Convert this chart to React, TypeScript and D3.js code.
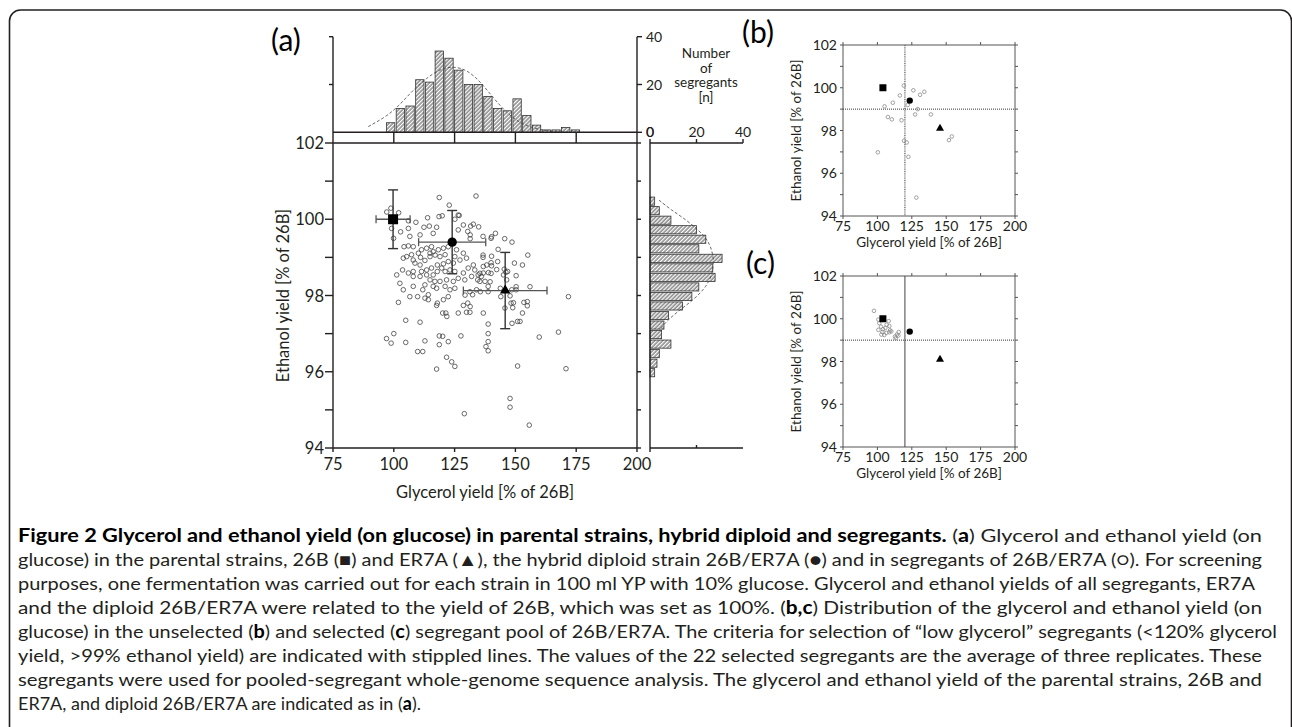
import React from "react";
import * as d3 from "d3";

// segregants of 26B/ER7A, panel (a): [glycerol %, ethanol %]
const segregantsA: [number, number][] = [
  [118.7, 100.57], [133.8, 100.61], [122.8, 100.37], [113.9, 100.04], [118.6, 100.07], [119.9, 100.09],
  [126.9, 100.1], [125.1, 100.0], [97.1, 100.19], [98.8, 100.29], [102.0, 100.17], [106.0, 99.96],
  [109.1, 99.92], [102.8, 99.67], [106.0, 99.76], [99.9, 99.5], [99.1, 99.76], [106.6, 99.55],
  [110.8, 99.59], [112.4, 99.79], [114.6, 99.82], [117.6, 99.79], [116.2, 99.63], [128.6, 99.85],
  [131.6, 99.82], [132.7, 99.87], [134.9, 99.8], [130.4, 99.68], [131.4, 99.59], [131.4, 99.49],
  [136.7, 99.55], [126.5, 99.72], [104.2, 99.28], [106.0, 99.3], [108.0, 99.28], [103.9, 98.98],
  [105.3, 99.02], [107.3, 99.07], [108.0, 98.93], [110.1, 99.11], [111.4, 99.2], [113.5, 99.24],
  [115.5, 99.28], [116.2, 99.15], [118.3, 99.2], [114.9, 99.11], [111.0, 99.0], [108.7, 98.85],
  [110.8, 98.8], [112.8, 98.92], [114.9, 99.02], [117.0, 99.06], [119.0, 99.02], [121.1, 99.07],
  [120.4, 99.24], [122.4, 99.28], [125.8, 99.2], [128.6, 99.11], [129.9, 98.98], [127.2, 98.93],
  [125.1, 99.02], [124.5, 98.85], [122.4, 98.89], [120.4, 98.83], [117.9, 98.8], [115.5, 98.72],
  [113.5, 98.67], [111.4, 98.63], [108.0, 98.63], [110.8, 98.5], [113.5, 98.54], [116.2, 98.54],
  [117.9, 98.63], [119.7, 98.72], [121.1, 98.63], [123.1, 98.67], [125.1, 98.63], [128.6, 98.59],
  [130.6, 98.72], [132.7, 98.8], [133.3, 98.67], [134.7, 98.54], [136.8, 98.76], [136.8, 98.59],
  [132.0, 98.5], [129.2, 98.41], [126.5, 98.45], [124.5, 98.37], [121.7, 98.41], [119.0, 98.37],
  [116.9, 98.37], [114.9, 98.41], [112.8, 98.28], [116.2, 98.24], [117.6, 98.19], [121.1, 98.24],
  [123.1, 98.15], [125.1, 98.19], [122.4, 97.97], [120.4, 97.89], [117.9, 97.8], [117.6, 97.74],
  [120.1, 97.54], [121.4, 97.54], [121.8, 97.45], [126.5, 97.54], [128.6, 97.74], [129.9, 97.56],
  [131.3, 97.56], [131.4, 97.71], [132.4, 98.02], [134.0, 98.15], [135.4, 98.37], [138.8, 98.24],
  [138.8, 98.1], [136.8, 97.54], [138.8, 97.25], [112.8, 97.93], [114.2, 97.89], [109.8, 97.97],
  [111.9, 98.15], [108.0, 98.5], [106.0, 98.59], [103.6, 98.67], [101.2, 98.54], [101.9, 97.82],
  [104.9, 97.35], [110.8, 97.3], [100.0, 97.0], [97.0, 96.87], [98.9, 96.75], [104.9, 96.77],
  [109.8, 96.53], [111.9, 96.53], [112.8, 96.81], [118.7, 96.94], [122.4, 96.79], [118.7, 96.71],
  [120.1, 96.93], [127.6, 96.94], [121.7, 96.38], [123.8, 96.26], [125.1, 96.14], [117.6, 96.07],
  [129.0, 94.9], [138.8, 97.0], [138.8, 96.79], [137.9, 96.66], [138.8, 96.55], [103.9, 98.15],
  [106.6, 97.97], [108.0, 98.24], [102.5, 98.32], [140.2, 99.54], [141.8, 99.63], [145.6, 99.49],
  [148.6, 99.4], [142.9, 99.21], [136.7, 99.06], [136.7, 99.0], [140.2, 99.03], [140.0, 98.86],
  [140.2, 98.78], [138.9, 98.6], [140.0, 98.58], [136.0, 98.5], [142.3, 98.68], [145.4, 98.69],
  [146.1, 98.61], [145.1, 98.54], [146.8, 98.63], [149.6, 98.85], [150.3, 98.52], [152.9, 98.8],
  [155.1, 99.06], [156.0, 98.23], [150.3, 98.23], [150.3, 98.15], [148.5, 98.15], [143.8, 98.19],
  [144.0, 97.97], [147.8, 97.99], [149.2, 97.81], [148.2, 97.8], [148.9, 97.68], [145.7, 97.67],
  [153.5, 97.82], [154.9, 97.84], [154.9, 97.73], [152.9, 97.54], [150.9, 97.32], [151.9, 97.32],
  [148.6, 97.27], [159.8, 96.91], [167.7, 97.04], [171.8, 97.97], [150.9, 96.15], [170.8, 96.08],
  [147.8, 95.3], [147.8, 95.07], [155.7, 94.6], [139.6, 98.36], [135.6, 98.1], [126.5, 100.11],
  [114.2, 98.02], [146.4, 98.41], [142.7, 98.89], [140.0, 99.5], [138.2, 98.8], [135.4, 98.58],
  [129.3, 98.01], [131.3, 98.1], [130.4, 97.8], [134.5, 98.41], [137.5, 98.37],
];

// unselected pool (b)
const segregantsB: [number, number][] = [
  [119.2, 100.1], [116.3, 99.64], [126.1, 99.88], [131.0, 99.67], [134.1, 99.81], [111.2, 99.3],
  [105.2, 99.13], [122.0, 99.19], [129.3, 99.0], [107.6, 98.63], [110.5, 98.52], [117.5, 98.48],
  [127.4, 98.75], [138.9, 98.75], [119.4, 97.52], [121.3, 97.44], [152.0, 97.55], [154.1, 97.72],
  [100.3, 96.98], [122.5, 96.77], [128.3, 94.86],
];

// selected pool (c)
const segregantsC: [number, number][] = [
  [97.5, 100.37], [100.7, 99.96], [101.4, 99.79], [100.7, 99.48], [102.6, 99.63], [103.6, 99.38],
  [105.0, 99.24], [102.9, 99.26], [105.8, 99.57], [108.2, 99.89], [108.7, 99.66], [109.2, 99.46],
  [110.1, 99.41], [108.7, 99.37], [112.8, 99.17], [114.2, 99.26], [115.5, 99.38], [113.3, 99.09],
  [104.1, 99.51], [106.5, 99.34], [106.7, 99.72], [115.2, 99.21],
];

// parents and hybrid: 26B (square), ER7A (triangle), 26B/ER7A (circle)
const parentShapes = ["square", "triangle", "circle"];
const parentGlycerol = [99.7, 145.8, 124.0];
const parentEthanol = [100.0, 98.13, 99.4];
const parentGlycerolSd = [7.0, 17.2, 13.8];
const parentEthanolSd = [0.77, 1.0, 0.83];
const parentGlycerolBC = [104.0, 145.5, 123.5];
const parentEthanolBC = [100.0, 98.1, 99.4];

// glycerol histogram (top)
const glycerolBinStart = [96.7, 100.7, 104.7, 108.7, 112.7, 116.7, 120.7, 124.7, 128.7, 132.7, 136.7, 140.7, 144.7, 148.7, 152.7, 156.7, 160.7, 164.7, 168.7, 172.7];
const glycerolBinWidth = 4;
const glycerolCounts = [4, 10, 11, 22, 21, 34, 31, 26, 20, 20, 15, 10, 9, 14, 7, 3, 1, 1, 2, 1];
const glycerolFit: [number, number][] = [
  [89.5, 2.4], [97, 6.6], [102.5, 11.5], [108, 17.8], [113.5, 22.7], [119, 26.5], [124.5, 27.6],
  [130, 26.2], [135.5, 21.3], [141, 14.3], [146.5, 8], [152, 3.8], [157.5, 1.7], [163, 0.6], [168, 0.1],
];

// ethanol histogram (right)
const ethanolBinStart = [100.35, 100.1, 99.85, 99.6, 99.35, 99.1, 98.85, 98.6, 98.35, 98.1, 97.85, 97.6, 97.35, 97.1, 96.85, 96.6, 96.35, 96.1, 95.85];
const ethanolBinWidth = 0.25;
const ethanolCounts = [2, 4, 9, 20, 24, 21, 31, 27, 28, 21, 18, 14, 8, 6, 5, 9, 4, 3, 2];
const ethanolFit: [number, number][] = [
  [100.5, 3.9], [100.25, 9], [99.98, 15.7], [99.7, 21], [99.46, 25], [99.02, 27.6], [98.59, 27],
  [98.23, 24.3], [97.88, 18.6], [97.62, 12.8], [97.36, 7.7], [97.1, 4],
];

const glycerolTicks = [75, 100, 125, 150, 175, 200];
const ethanolTicks = [94, 95, 96, 97, 98, 99, 100, 101, 102];
const countTicks = [0, 20, 40];
const selectGlycerol = 120;
const selectEthanol = 99;

const ink = "#231f20";
const font = "Lato, 'Open Sans', sans-serif";

function marker(shape: string, size: number) {
  const t = shape === "square" ? d3.symbolSquare : shape === "triangle" ? d3.symbolTriangle : d3.symbolCircle;
  return d3.symbol().type(t).size(size)() as string;
}

function SmallPanel({ points, top, label, dottedVertical }: { points: [number, number][]; top: number; label: string; dottedVertical: boolean }) {
  const x = d3.scaleLinear().domain([75, 200]).range([843, 1015]);
  const y = d3.scaleLinear().domain([94, 102]).range([top + 171, top]);
  const sizes: Record<string, number> = { square: 49, triangle: 28, circle: 32 };
  return (
    <g>
      <text x={label === "(b)" ? 742 : 746} y={top - 2} fontSize={30} fill="#000">{label}</text>
      <rect x={843} y={top} width={172} height={171} fill="none" stroke="#555" strokeWidth={1} />
      {ethanolTicks.map((v) => (
        <g key={v}>
          <line x1={843} x2={840} y1={y(v)} y2={y(v)} stroke="#555" />
          <line x1={1015} x2={1018} y1={y(v)} y2={y(v)} stroke="#555" />
          {v % 2 === 0 && (
            <text x={837} y={y(v) + 5} textAnchor="end" fontSize={14} fill={ink}>{v}</text>
          )}
        </g>
      ))}
      {glycerolTicks.map((v) => (
        <g key={v}>
          <line x1={x(v)} x2={x(v)} y1={top + 171} y2={top + 174} stroke="#555" />
          <line x1={x(v)} x2={x(v)} y1={top} y2={top - 3} stroke="#555" />
          <text x={x(v)} y={top + 186} textAnchor="middle" fontSize={14} fill={ink}>{v}</text>
        </g>
      ))}
      <text x={929} y={top + 202} textAnchor="middle" fontSize={13.5} fill={ink}>Glycerol yield [% of 26B]</text>
      <text transform={`translate(801,${top + 85.5}) rotate(-90)`} textAnchor="middle" fontSize={13.5} fill={ink}>
        Ethanol yield [% of 26B]
      </text>
      <line x1={x(selectGlycerol)} x2={x(selectGlycerol)} y1={top} y2={top + 171}
        stroke={dottedVertical ? "#666" : "#444"} strokeWidth={dottedVertical ? 1.3 : 1}
        strokeDasharray={dottedVertical ? "1,0.8" : undefined} />
      <line x1={843} x2={1015} y1={y(selectEthanol)} y2={y(selectEthanol)} stroke="#333" strokeWidth={1} strokeDasharray="1,1" />
      {points.map((p, i) => (
        <circle key={i} cx={x(p[0])} cy={y(p[1])} r={1.8} fill="none" stroke="#8a8a8a" strokeWidth={0.8} />
      ))}
      {parentShapes.map((s, i) => (
        <path key={s} d={marker(s, sizes[s])} transform={`translate(${x(parentGlycerolBC[i])},${y(parentEthanolBC[i])})`} fill="#000" />
      ))}
    </g>
  );
}

export default function App() {
  const x = d3.scaleLinear().domain([75, 200]).range([333, 637]);
  const y = d3.scaleLinear().domain([94, 102]).range([448, 143]);
  const nTop = d3.scaleLinear().domain([0, 40]).range([132.3, 36.7]);
  const nRight = d3.scaleLinear().domain([0, 40]).range([650, 743]);

  const topCurve = d3.line<[number, number]>().x((d) => x(d[0])).y((d) => nTop(d[1])).curve(d3.curveBasis);
  const rightCurve = d3.line<[number, number]>().x((d) => nRight(d[1])).y((d) => y(d[0])).curve(d3.curveBasis);
  const sizes: Record<string, number> = { square: 100, triangle: 48, circle: 68 };

  const capLines = [
    [
      { t: "Figure 2 Glycerol and ethanol yield (on glucose) in parental strains, hybrid diploid and segregants.", b: true },
      { t: " (" }, { t: "a", b: true }, { t: ") Glycerol and ethanol yield (on" },
    ],
    [{ t: "glucose) in the parental strains, 26B (\u25A0) and ER7A (\u25B2), the hybrid diploid strain 26B/ER7A (\u25CF) and in segregants of 26B/ER7A (\u25CB). For screening" }],
    [{ t: "purposes, one fermentation was carried out for each strain in 100 ml YP with 10% glucose. Glycerol and ethanol yields of all segregants, ER7A" }],
    [{ t: "and the diploid 26B/ER7A were related to the yield of 26B, which was set as 100%. (" }, { t: "b,c", b: true }, { t: ") Distribution of the glycerol and ethanol yield (on" }],
    [
      { t: "glucose) in the unselected (" }, { t: "b", b: true }, { t: ") and selected (" }, { t: "c", b: true },
      { t: ") segregant pool of 26B/ER7A. The criteria for selection of \u201Clow glycerol\u201D segregants (<120% glycerol" },
    ],
    [{ t: "yield, >99% ethanol yield) are indicated with stippled lines. The values of the 22 selected segregants are the average of three replicates. These" }],
    [{ t: "segregants were used for pooled-segregant whole-genome sequence analysis. The glycerol and ethanol yield of the parental strains, 26B and" }],
    [{ t: "ER7A, and diploid 26B/ER7A are indicated as in (" }, { t: "a", b: true }, { t: ")." }],
  ];
  const capEnds = [1262, 1262, 1255, 1262, 1277, 1262, 1262, 0];

  return (
    <svg width={1292} height={727} style={{ position: "absolute", left: 0, top: 0, background: "#fff" }} fontFamily={font}>
      <defs>
        <pattern id="hatch" patternUnits="userSpaceOnUse" width={2.8} height={2.8} patternTransform="rotate(45)">
          <rect width={2.8} height={2.8} fill="#fff" />
          <line x1={1} y1={0} x2={1} y2={2.8} stroke="#333" strokeWidth={0.9} />
        </pattern>
      </defs>
      <rect x={9.5} y={10} width={1282} height={800} rx={11} fill="none" stroke={ink} strokeWidth={1.6} />

      {/* panel (a) */}
      <text x={271} y={51} fontSize={30} fill="#000">(a)</text>

      {/* top histogram */}
      {glycerolBinStart.map((b, i) => (
        <rect key={b} x={x(b) + 0.7} width={x(b + glycerolBinWidth) - x(b) - 1.4} y={nTop(glycerolCounts[i])}
          height={nTop(0) - nTop(glycerolCounts[i])} fill="url(#hatch)" stroke="#333" strokeWidth={0.8} />
      ))}
      <path d={topCurve(glycerolFit) || ""} fill="none" stroke="#444" strokeWidth={0.8} strokeDasharray="3,2" />

      {/* right histogram */}
      {ethanolBinStart.map((b, i) => (
        <rect key={b} x={nRight(0)} width={nRight(ethanolCounts[i]) - nRight(0)} y={y(b + ethanolBinWidth) + 0.7}
          height={y(b) - y(b + ethanolBinWidth) - 1.4} fill="url(#hatch)" stroke="#333" strokeWidth={0.8} />
      ))}
      <path d={rightCurve(ethanolFit) || ""} fill="none" stroke="#444" strokeWidth={0.8} strokeDasharray="3,2" />

      {/* frame lines */}
      <g stroke={ink} strokeWidth={1.4} fill="none">
        <line x1={333} x2={333} y1={nTop(40)} y2={448} />
        <line x1={637} x2={637} y1={nTop(40)} y2={448} />
        <line x1={333} x2={637} y1={nTop(0)} y2={nTop(0)} />
        <line x1={333} x2={637} y1={143} y2={143} />
        <line x1={333} x2={637} y1={448} y2={448} />
        <line x1={650} x2={650} y1={139} y2={452} />
        <line x1={650} x2={743} y1={143} y2={143} />
        <line x1={650} x2={743} y1={448} y2={448} />
        {ethanolTicks.map((v) => (
          <g key={v}>
            <line x1={325} x2={333} y1={y(v)} y2={y(v)} />
            <line x1={637} x2={641} y1={y(v)} y2={y(v)} />
          </g>
        ))}
        {glycerolTicks.map((v) => (
          <line key={v} x1={x(v)} x2={x(v)} y1={448} y2={452} />
        ))}
        {glycerolTicks.slice(1, 5).map((v) => (
          <line key={v} x1={x(v)} x2={x(v)} y1={nTop(0)} y2={143} />
        ))}
        {countTicks.map((v) => (
          <g key={v}>
            {v > 0 && <line x1={329} x2={333} y1={nTop(v)} y2={nTop(v)} />}
            <line x1={637} x2={642} y1={nTop(v)} y2={nTop(v)} />
            {v > 0 && <line x1={nRight(v)} x2={nRight(v)} y1={143} y2={139} />}
          </g>
        ))}
        <line x1={nRight(20)} x2={nRight(20)} y1={448} y2={445} />
      </g>

      {/* scatter */}
      {segregantsA.map((p, i) => (
        <circle key={i} cx={x(p[0])} cy={y(p[1])} r={2.3} fill="none" stroke="#444" strokeWidth={0.8} />
      ))}
      {parentShapes.map((s, i) => {
        const cx = x(parentGlycerol[i]);
        const cy = y(parentEthanol[i]);
        const x0 = x(parentGlycerol[i] - parentGlycerolSd[i]);
        const x1 = x(parentGlycerol[i] + parentGlycerolSd[i]);
        const y0 = y(parentEthanol[i] + parentEthanolSd[i]);
        const y1 = y(parentEthanol[i] - parentEthanolSd[i]);
        return (
          <g key={s}>
            <g stroke="#555" strokeWidth={1.3}>
              <line x1={x0} x2={x1} y1={cy} y2={cy} />
              <line x1={x0} x2={x0} y1={cy - 4} y2={cy + 4} />
              <line x1={x1} x2={x1} y1={cy - 4} y2={cy + 4} />
            </g>
            <g stroke="#333" strokeWidth={1.4}>
              <line x1={cx} x2={cx} y1={y0} y2={y1} />
              <line x1={cx - 5} x2={cx + 5} y1={y0} y2={y0} />
              <line x1={cx - 5} x2={cx + 5} y1={y1} y2={y1} />
            </g>
            <path d={marker(s, sizes[s])} transform={`translate(${cx},${cy})`} fill="#000" />
          </g>
        );
      })}

      {/* tick labels and titles */}
      <g fill={ink}>
        {ethanolTicks.filter((v) => v % 2 === 0).map((v) => (
          <text key={v} x={324} y={y(v) + 6} textAnchor="end" fontSize={16.5}>{v}</text>
        ))}
        {glycerolTicks.map((v) => (
          <text key={v} x={x(v)} y={470} textAnchor="middle" fontSize={16.5}>{v}</text>
        ))}
        <text x={485} y={498} textAnchor="middle" fontSize={16.5}>Glycerol yield [% of 26B]</text>
        <text transform="translate(289,295.5) rotate(-90)" textAnchor="middle" fontSize={16.5}>Ethanol yield [% of 26B]</text>
        {countTicks.map((v) => (
          <g key={v}>
            <text x={646} y={nTop(v) + 5} fontSize={14}>{v}</text>
            <text x={nRight(v)} y={137} textAnchor="middle" fontSize={14}>{v}</text>
          </g>
        ))}
        {["Number", "of", "segregants", "[n]"].map((t, i) => (
          <text key={t} x={706} y={58 + i * 14.5} textAnchor="middle" fontSize={13.5}>{t}</text>
        ))}
      </g>

      <SmallPanel points={segregantsB} top={45} label="(b)" dottedVertical={true} />
      <SmallPanel points={segregantsC} top={276} label="(c)" dottedVertical={false} />

      {/* caption */}
      <g fill={ink} fontSize={18}>
        {capLines.map((line, i) => (
          <text key={i} x={18} y={542 + i * 24}
            {...(capEnds[i] ? { textLength: capEnds[i] - 18, lengthAdjust: "spacingAndGlyphs" } : {})}>
            {line.map((s: any, j: number) => (
              <tspan key={j} fontWeight={s.b ? 700 : 400} fill={s.b ? "#000" : ink}>{s.t}</tspan>
            ))}
          </text>
        ))}
      </g>
    </svg>
  );
}
